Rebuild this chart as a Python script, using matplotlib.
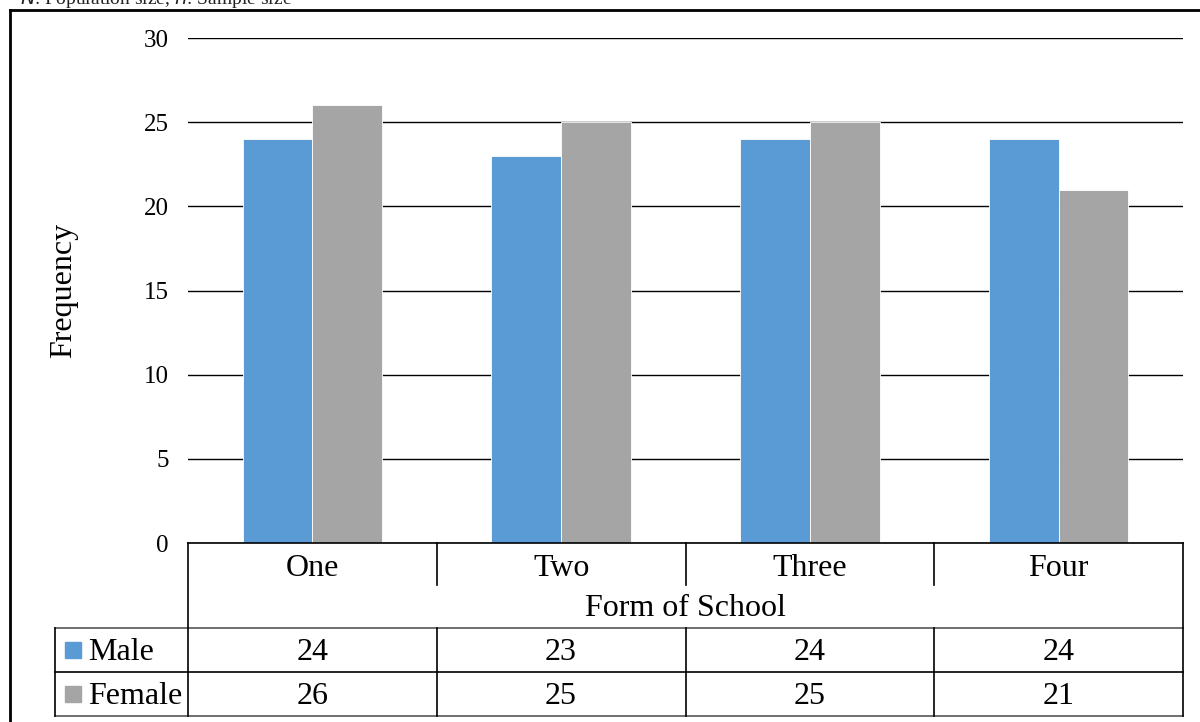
import numpy as np
import matplotlib.pyplot as plt
from matplotlib.lines import Line2D
from matplotlib.patches import Rectangle
import matplotlib.transforms as mtransforms

plt.rcParams['font.family'] = ['Liberation Serif', 'DejaVu Serif']

forms = ['One', 'Two', 'Three', 'Four']
male = [24, 23, 24, 24]
female = [26, 25, 25, 21]
series_names = ['Male', 'Female']
colors = ['#5B9BD5', '#A5A5A5']

W, H = 1200, 722
fig = plt.figure(figsize=(12, 7.22), dpi=100)


def fx(px):
    return px / W


def fy(py):
    return 1 - py / H


# plot area in pixels
left, right, top, bottom = 188, 1183, 38, 543
ax = fig.add_axes([fx(left), fy(bottom), fx(right - left), (bottom - top) / H])

x = np.arange(len(forms))
bw = 0.28
ax.bar(x - bw / 2, male, bw, color=colors[0], edgecolor='white', linewidth=0.6, zorder=3)
ax.bar(x + bw / 2, female, bw, color=colors[1], edgecolor='white', linewidth=0.6, zorder=3)

ax.set_xlim(-0.5, len(forms) - 0.5)
ax.set_ylim(0, 30)
ax.set_yticks(range(0, 31, 5))
ax.yaxis.grid(True, color='black', linewidth=1.0, zorder=0)
ax.set_xticks([])
ax.tick_params(axis='y', length=0, labelsize=18, pad=14)
for s in ax.spines.values():
    s.set_visible(False)
ax.set_ylabel('Frequency', fontsize=23, labelpad=47)

# data table below the axes
lw = 1.2
row_cat = (543, 585)
row_title = (585, 628)
row_m = (628, 672)
row_f = (672, 716)
leg_left = 55
fs = 23


def hline(y, x0, x1, color='black'):
    fig.add_artist(Line2D([fx(x0), fx(x1)], [fy(y), fy(y)], color=color, lw=lw))


def vline(x0, y0, y1, color='black'):
    fig.add_artist(Line2D([fx(x0), fx(x0)], [fy(y0), fy(y1)], color=color, lw=lw))


hline(543, left, right)
hline(628, leg_left, right, '#555555')
hline(672, leg_left, right)
hline(716, leg_left, right, '#555555')
vline(left, 543, 716)
vline(right, 543, 716)
vline(leg_left, 628, 716)
cat_w = (right - left) / len(forms)
for i in range(1, len(forms)):
    vline(left + i * cat_w, 543, 585)
    vline(left + i * cat_w, 628, 716)

trans = mtransforms.blended_transform_factory(ax.transData, fig.transFigure)
for i, f in enumerate(forms):
    ax.text(i, fy(568), f, transform=trans, ha='center', va='center', fontsize=fs)
    ax.text(i, fy(653), str(male[i]), transform=trans, ha='center', va='center', fontsize=fs)
    ax.text(i, fy(697), str(female[i]), transform=trans, ha='center', va='center', fontsize=fs)
fig.text(fx((left + right) / 2), fy(609), 'Form of School', ha='center', va='center', fontsize=fs)

for name, c, (y0, y1) in zip(series_names, colors, [row_m, row_f]):
    yc = (y0 + y1) / 2
    fig.add_artist(Rectangle((fx(65), fy(yc + 8)), fx(16), 16 / H, color=c))
    fig.text(fx(88), fy(yc + 3), name, ha='left', va='center', fontsize=fs)

# outer frame and clipped note at the top
fig.add_artist(Line2D([fx(10), fx(10)], [fy(10), 0], color='black', lw=2))
fig.add_artist(Line2D([fx(10), 1], [fy(10), fy(10)], color='black', lw=2))
fig.text(fx(20), fy(4), r'$N$: Population size, $n$: Sample size', ha='left', va='baseline',
         fontsize=14, color='#222222')

fig.savefig('out.png', dpi=100)
